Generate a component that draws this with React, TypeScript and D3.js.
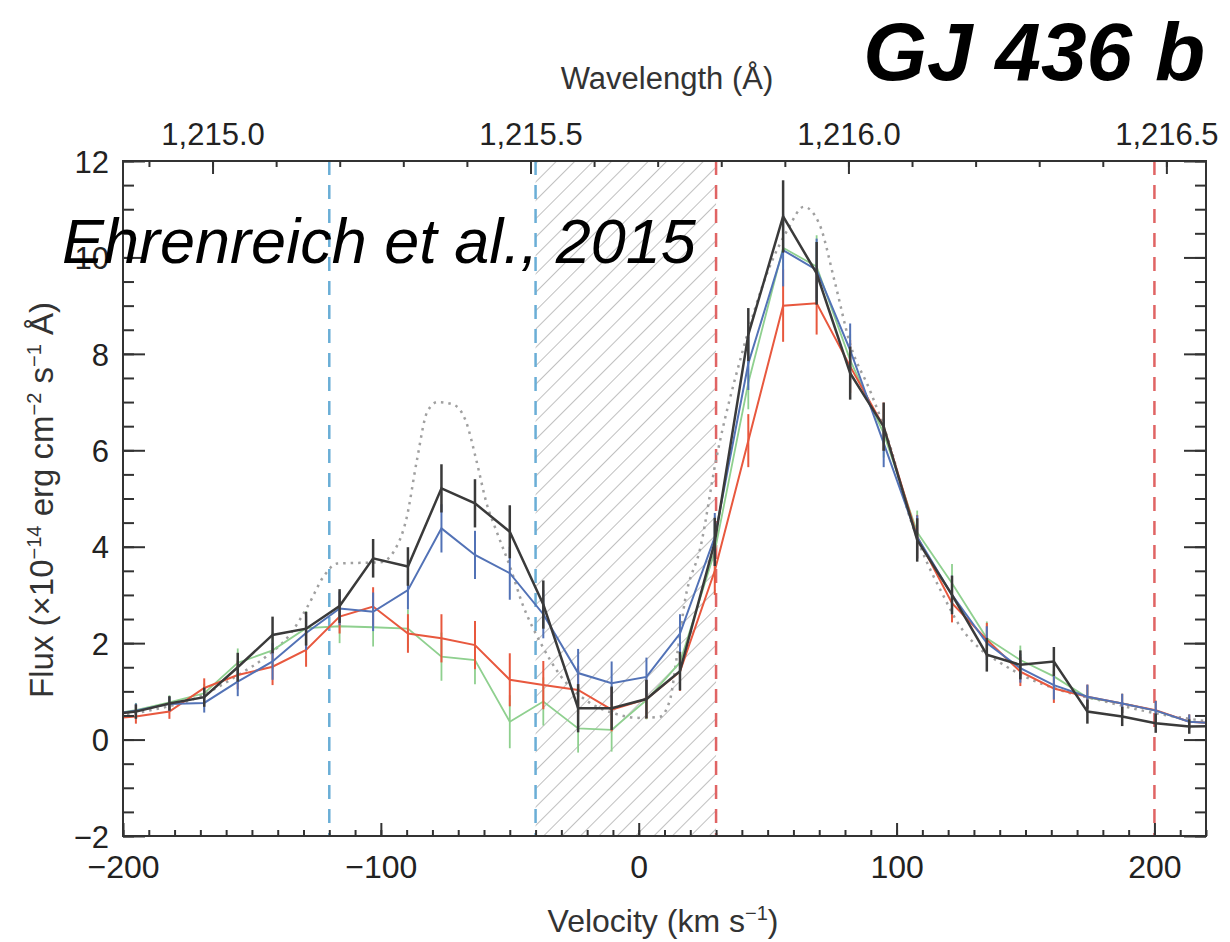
import { useEffect, useRef } from "react";
import * as d3 from "d3";

// velocity bins (km/s)
const velocity = [
  -208.5, -195, -182, -168.5, -155.5, -142, -129, -116, -103, -89.5, -76.5,
  -63.5, -50, -37, -23.5, -10.5, 3, 16, 29.5, 42.5, 56, 69, 82, 95, 108,
  121.5, 135, 148, 161, 174, 187.5, 200.5, 213.5, 227,
];

const fluxBlack = [
  0.5, 0.58, 0.75, 0.88, 1.5, 2.17, 2.3, 2.77, 3.76, 3.59, 5.21, 4.9, 4.31,
  2.8, 0.65, 0.65, 0.84, 1.42, 4.1, 8.4, 10.85, 9.67, 7.6, 6.49, 4.14, 3.0,
  1.76, 1.55, 1.62, 0.58, 0.48, 0.34, 0.27, 0.28,
];
const fluxBlue = [
  0.5, 0.6, 0.74, 0.76, 1.2, 1.62, 2.21, 2.72, 2.65, 3.1, 4.38, 3.83, 3.45,
  2.6, 1.38, 1.17, 1.3, 2.2, 4.2, 7.8, 10.15, 9.74, 8.08, 6.15, 4.2, 3.0, 2.0,
  1.48, 1.13, 0.89, 0.75, 0.6, 0.37, 0.33,
];
const fluxGreen = [
  0.5, 0.61, 0.77, 0.96, 1.59, 1.85, 2.31, 2.35, 2.33, 2.3, 1.72, 1.65, 0.37,
  0.79, 0.23, 0.2, 0.82, 1.6, 3.9, 7.4, 10.2, 9.81, 7.87, 6.35, 4.3, 3.24,
  2.1, 1.65, 1.31, 0.87, 0.75, 0.6, 0.37, 0.33,
];
const fluxRed = [
  0.42, 0.48, 0.58, 1.07, 1.34, 1.51, 1.86, 2.55, 2.76, 2.2, 2.1, 1.96, 1.24,
  1.13, 1.03, 0.62, 0.84, 1.41, 3.5, 6.2, 9.0, 9.05, 7.74, 6.49, 4.21, 2.83,
  2.07, 1.41, 1.06, 0.89, 0.75, 0.61, 0.37, 0.33,
];
const fluxErr = [
  0.15, 0.15, 0.15, 0.2, 0.3, 0.38, 0.35, 0.35, 0.4, 0.4, 0.5, 0.5, 0.55, 0.5,
  0.5, 0.45, 0.4, 0.4, 0.5, 0.55, 0.75, 0.65, 0.55, 0.5, 0.45, 0.4, 0.35, 0.3,
  0.3, 0.25, 0.2, 0.2, 0.15, 0.15,
];

// dotted model profile
const modelVelocity = [
  -210, -190, -170, -155, -145, -135, -128, -122, -117, -100, -95, -90, -86,
  -82, -78, -72, -67, -63, -59, -55, -50, -45, -38, -30, -20, -10, 0, 8, 12,
  15, 18, 24, 30, 40, 50, 58, 64, 70, 76, 82, 90, 98, 104, 110, 118, 124, 132,
  140, 150, 165, 180, 200, 225,
];
const modelFlux = [
  0.45, 0.6, 0.9, 1.35, 1.7, 2.2, 2.8, 3.4, 3.65, 3.68, 3.9, 4.6, 5.8, 6.8,
  7.0, 6.95, 6.6, 5.8, 4.9, 4.3, 3.6, 2.8, 2.0, 1.3, 0.8, 0.55, 0.45, 0.47,
  0.8, 1.8, 2.9, 4.0, 5.8, 8.0, 9.7, 10.6, 11.05, 10.7, 9.5, 8.2, 7.2, 6.0,
  4.8, 3.9, 3.0, 2.4, 1.9, 1.6, 1.3, 1.0, 0.8, 0.55, 0.35,
];

const blueMarks = [-120, -40];
const redMarks = [30, 200];
const hatchRange = [-40, 30];
const velocityTicks = [-200, -100, 0, 100, 200];
const wavelengthTicks = [1215.0, 1215.5, 1216.0, 1216.5];
const fluxTicks = [-2, 0, 2, 4, 6, 8, 10, 12];

const LYA = 1215.6702;
const C = 299792.458;
const FONT = "'Liberation Sans', Arial, Helvetica, sans-serif";

function drawChart(svgEl: SVGSVGElement) {
  const svg = d3.select(svgEl);
  svg.selectAll("*").remove();

  const left = 123;
  const right = 1206;
  const top = 161;
  const bottom = 836;

  const x = d3.scaleLinear().domain([-200, 220]).range([left, right]);
  const y = d3.scaleLinear().domain([-2, 12]).range([bottom, top]);
  const wl = d3
    .scaleLinear()
    .domain([LYA * (1 + -200 / C), LYA * (1 + 220 / C)])
    .range([left, right]);

  const defs = svg.append("defs");
  defs
    .append("clipPath")
    .attr("id", "plot-clip")
    .append("rect")
    .attr("x", left)
    .attr("y", top)
    .attr("width", right - left)
    .attr("height", bottom - top);
  const pat = defs
    .append("pattern")
    .attr("id", "hatch")
    .attr("patternUnits", "userSpaceOnUse")
    .attr("width", 13)
    .attr("height", 13)
    .attr("patternTransform", "rotate(45)");
  pat
    .append("line")
    .attr("x1", 0)
    .attr("y1", 0)
    .attr("x2", 0)
    .attr("y2", 13)
    .attr("stroke", "#a5a5a5")
    .attr("stroke-width", 1.4);

  // hatched region
  svg
    .append("rect")
    .attr("x", x(hatchRange[0]))
    .attr("y", top)
    .attr("width", x(hatchRange[1]) - x(hatchRange[0]))
    .attr("height", bottom - top)
    .attr("fill", "url(#hatch)");

  // vertical dashed markers
  const marks = svg.append("g");
  marks
    .selectAll("line.b")
    .data(blueMarks)
    .join("line")
    .attr("x1", (d) => x(d))
    .attr("x2", (d) => x(d))
    .attr("y1", top)
    .attr("y2", bottom)
    .attr("stroke", "#6aaed6")
    .attr("stroke-width", 2.5)
    .attr("stroke-dasharray", "14,10");
  marks
    .selectAll("line.r")
    .data(redMarks)
    .join("line")
    .attr("x1", (d) => x(d))
    .attr("x2", (d) => x(d))
    .attr("y1", top)
    .attr("y2", bottom)
    .attr("stroke", "#e06464")
    .attr("stroke-width", 2.5)
    .attr("stroke-dasharray", "14,10");

  const plot = svg.append("g").attr("clip-path", "url(#plot-clip)");

  // model
  const modelLine = d3
    .line<number>()
    .x((d, i) => x(modelVelocity[i]))
    .y((d) => y(d))
    .curve(d3.curveMonotoneX);
  plot
    .append("path")
    .attr("d", modelLine(modelFlux))
    .attr("fill", "none")
    .attr("stroke", "#a0a0a0")
    .attr("stroke-width", 2.5)
    .attr("stroke-dasharray", "2.5,5");

  const series = [
    { values: fluxGreen, color: "#8fd08f", width: 1.8 },
    { values: fluxRed, color: "#e8583e", width: 2 },
    { values: fluxBlue, color: "#5272b6", width: 2 },
    { values: fluxBlack, color: "#3a3a3a", width: 2.5 },
  ];
  const line = d3
    .line<number>()
    .x((d, i) => x(velocity[i]))
    .y((d) => y(d));

  series.forEach((s) => {
    const g = plot.append("g");
    g.append("path")
      .attr("d", line(s.values))
      .attr("fill", "none")
      .attr("stroke", s.color)
      .attr("stroke-width", s.width);
    g.selectAll("line")
      .data(s.values)
      .join("line")
      .attr("x1", (d, i) => x(velocity[i]))
      .attr("x2", (d, i) => x(velocity[i]))
      .attr("y1", (d, i) => y(d - fluxErr[i]))
      .attr("y2", (d, i) => y(d + fluxErr[i]))
      .attr("stroke", s.color)
      .attr("stroke-width", s.width);
  });

  // frame
  svg
    .append("rect")
    .attr("x", left)
    .attr("y", top)
    .attr("width", right - left)
    .attr("height", bottom - top)
    .attr("fill", "none")
    .attr("stroke", "#333")
    .attr("stroke-width", 2);

  const styleAxis = (g: d3.Selection<SVGGElement, unknown, null, undefined>) => {
    g.select(".domain").remove();
    g.selectAll(".tick line").attr("stroke", "#333").attr("stroke-width", 2);
    g.selectAll("text")
      .attr("font-family", FONT)
      .attr("fill", "#222");
    g.attr("font-size", null).attr("font-family", null);
  };

  // bottom axis
  svg
    .append("g")
    .attr("transform", `translate(0,${bottom})`)
    .call(
      d3.axisBottom(x).tickValues(d3.range(-200, 221, 10)).tickSize(-6).tickFormat(() => ""),
    )
    .call(styleAxis);
  svg
    .append("g")
    .attr("transform", `translate(0,${bottom})`)
    .call(d3.axisBottom(x).tickValues(velocityTicks).tickSize(-13).tickFormat(d3.format("d")))
    .call(styleAxis)
    .selectAll("text")
    .attr("font-size", 32)
    .attr("y", 42)
    .attr("dy", 0);

  // top axis (wavelength)
  svg
    .append("g")
    .attr("transform", `translate(0,${top})`)
    .call(
      d3.axisTop(wl).tickValues(d3.range(1214.9, 1216.55, 0.1)).tickSize(-6).tickFormat(() => ""),
    )
    .call(styleAxis);
  svg
    .append("g")
    .attr("transform", `translate(0,${top})`)
    .call(d3.axisTop(wl).tickValues(wavelengthTicks).tickSize(-13).tickFormat(d3.format(",.1f")))
    .call(styleAxis)
    .selectAll("text")
    .attr("font-size", 31)
    .attr("y", -16)
    .attr("dy", 0);

  // left axis
  svg
    .append("g")
    .attr("transform", `translate(${left},0)`)
    .call(d3.axisLeft(y).tickValues(d3.range(-2, 12.01, 0.5)).tickSize(-11).tickFormat(() => ""))
    .call(styleAxis);
  svg
    .append("g")
    .attr("transform", `translate(${left},0)`)
    .call(d3.axisLeft(y).tickValues(fluxTicks).tickSize(-22).tickFormat(d3.format("d")))
    .call(styleAxis)
    .selectAll("text")
    .attr("font-size", 31)
    .attr("x", -14)
    .attr("dy", "0.36em");

  // right axis
  svg
    .append("g")
    .attr("transform", `translate(${right},0)`)
    .call(d3.axisRight(y).tickValues(d3.range(-2, 12.01, 0.5)).tickSize(-11).tickFormat(() => ""))
    .call(styleAxis);
  svg
    .append("g")
    .attr("transform", `translate(${right},0)`)
    .call(d3.axisRight(y).tickValues(fluxTicks).tickSize(-22).tickFormat(() => ""))
    .call(styleAxis);

  // axis titles
  svg
    .append("text")
    .attr("x", 667)
    .attr("y", 89)
    .attr("text-anchor", "middle")
    .attr("font-family", FONT)
    .attr("font-size", 31)
    .attr("fill", "#333")
    .text("Wavelength (Å)");

  const vel = svg
    .append("text")
    .attr("x", 663)
    .attr("y", 932)
    .attr("text-anchor", "middle")
    .attr("font-family", FONT)
    .attr("font-size", 32)
    .attr("fill", "#333");
  vel.append("tspan").text("Velocity (km s");
  vel.append("tspan").attr("dy", -12).attr("font-size", 20).text("−1");
  vel.append("tspan").attr("dy", 12).text(")");

  const flux = svg
    .append("text")
    .attr("transform", "translate(53,500) rotate(-90)")
    .attr("text-anchor", "middle")
    .attr("font-family", FONT)
    .attr("font-size", 33)
    .attr("fill", "#333");
  flux.append("tspan").text("Flux (×10");
  flux.append("tspan").attr("dy", -12).attr("font-size", 20).text("−14");
  flux.append("tspan").attr("dy", 12).text(" erg cm");
  flux.append("tspan").attr("dy", -12).attr("font-size", 20).text("−2");
  flux.append("tspan").attr("dy", 12).text(" s");
  flux.append("tspan").attr("dy", -12).attr("font-size", 20).text("−1");
  flux.append("tspan").attr("dy", 12).text(" Å)");

  // annotations
  svg
    .append("text")
    .attr("x", 1205)
    .attr("y", 80)
    .attr("text-anchor", "end")
    .attr("font-family", FONT)
    .attr("font-size", 82)
    .attr("font-weight", "bold")
    .attr("font-style", "italic")
    .attr("fill", "#000")
    .text("GJ 436 b");

  svg
    .append("text")
    .attr("x", 62)
    .attr("y", 263)
    .attr("font-family", FONT)
    .attr("font-size", 63)
    .attr("font-style", "italic")
    .attr("fill", "#000")
    .text("Ehrenreich et al., 2015");
}

export default function App() {
  const svgRef = useRef<SVGSVGElement>(null);
  useEffect(() => {
    if (svgRef.current) drawChart(svgRef.current);
  }, []);
  return (
    <svg
      ref={svgRef}
      width={1230}
      height={942}
      style={{ position: "absolute", left: 0, top: 0, background: "#fff" }}
    />
  );
}
